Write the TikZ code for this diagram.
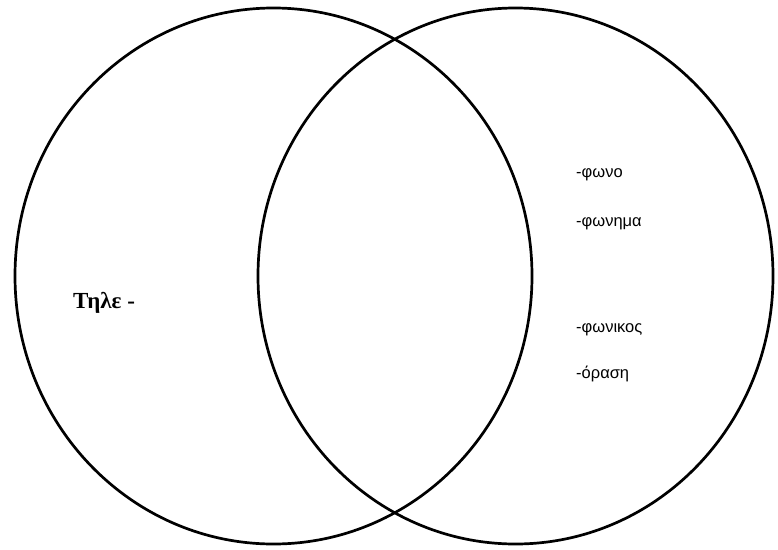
\documentclass[tikz,border=0pt]{standalone}
\usepackage{fontspec}
\setmainfont{Liberation Serif}
\newfontfamily\lsans{Liberation Sans}
\begin{document}
\begin{tikzpicture}[x=1pt,y=-1pt,
  setline/.style={line width=2.7pt,black},
  leftlab/.style={anchor=base west,inner sep=0pt,font=\fontsize{23}{25}\selectfont\bfseries},
  rightlab/.style={anchor=base west,inner sep=0pt,font=\lsans\fontsize{16.5}{18}\selectfont}]
\useasboundingbox (0,0) rectangle (778,549);
\draw[setline] (273.5,276) ellipse [x radius=258.5, y radius=268];
\draw[setline] (515.5,276) ellipse [x radius=257.5, y radius=268];
\node[leftlab] (tile) at (73,308) {Τηλε -};
\node[rightlab] (fono) at (576,177) {-φωνο};
\node[rightlab] (fonima) at (576,226) {-φωνημα};
\node[rightlab] (fonikos) at (576,332) {-φωνικος};
\node[rightlab] (orasi) at (576,378) {-όραση};
\end{tikzpicture}
\end{document}
